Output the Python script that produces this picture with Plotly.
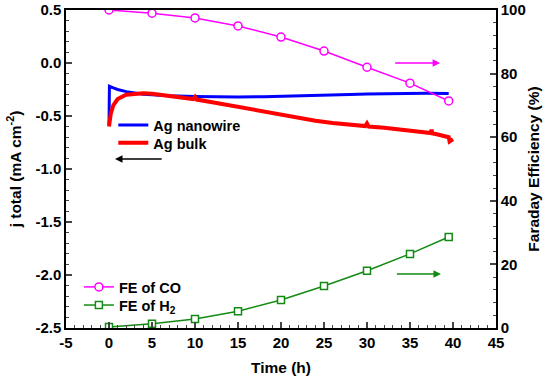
import plotly.graph_objects as go

# ---- data ----
nw_t = [0, 0.05, 0.5, 1, 2, 3, 4, 5, 7, 10, 12, 15, 18, 20, 22, 25, 28, 30, 33, 35, 37, 39.5]
nw_j = [-0.58, -0.22, -0.235, -0.25, -0.27, -0.285, -0.295, -0.30, -0.31, -0.315, -0.318, -0.32, -0.318, -0.315, -0.31, -0.305, -0.298, -0.292, -0.288, -0.287, -0.286, -0.288]

bulk_t = [0, 0.2, 0.5, 1, 2, 3, 4, 5, 6, 7, 8, 9.8, 10, 10.2, 12, 14, 16, 18, 20, 22, 24, 26, 28, 29.8, 30, 30.2,
          32, 34, 35, 36, 37.4, 37.5, 37.6, 38, 39, 39.5, 39.6, 40]
bulk_j = [-0.60, -0.48, -0.40, -0.34, -0.30, -0.29, -0.285, -0.29, -0.30, -0.31, -0.32, -0.34, -0.32, -0.345, -0.37, -0.40, -0.43, -0.46, -0.49, -0.52, -0.545, -0.565, -0.58, -0.595, -0.57, -0.60,
          -0.61, -0.63, -0.635, -0.65, -0.66, -0.63, -0.665, -0.67, -0.69, -0.70, -0.74, -0.72]

fe_t = [0, 5, 10, 15, 20, 25, 30, 35, 39.5]
fe_co = [100, 99, 97.5, 95, 91.5, 87.1, 82, 77, 71.4]
fe_h2 = [0.3, 1.3, 2.8, 5.3, 8.8, 13.2, 18, 23.3, 28.6]

x_ticks = [-5, 0, 5, 10, 15, 20, 25, 30, 35, 40, 45]
x_ticktext = ["-5", "0", "5", "10", "15", "20", "25", "30", "35", "40", "45"]
y_ticks = [-2.5, -2.0, -1.5, -1.0, -0.5, 0.0, 0.5]
y_ticktext = ["-2.5", "-2.0", "-1.5", "-1.0", "-0.5", "0.0", "0.5"]
y2_ticks = [0, 20, 40, 60, 80, 100]

FONT = "Liberation Sans, Arial, sans-serif"
MAG = "#FF00FF"
GRN = "#138A13"

fig = go.Figure()
fig.add_trace(go.Scatter(x=nw_t, y=nw_j, mode="lines", name="Ag nanowire",
                         line=dict(color="#0000FF", width=3), legend="legend"))
fig.add_trace(go.Scatter(x=bulk_t, y=bulk_j, mode="lines", name="Ag bulk",
                         line=dict(color="#FF0000", width=4), legend="legend2"))
fig.add_trace(go.Scatter(x=fe_t, y=fe_co, mode="lines+markers", name="FE of CO", yaxis="y2",
                         line=dict(color=MAG, width=1.5),
                         marker=dict(symbol="circle", size=8, color="white",
                                     line=dict(color=MAG, width=1.5)),
                         legend="legend3"))
fig.add_trace(go.Scatter(x=fe_t, y=fe_h2, mode="lines+markers", name="FE of H<sub>2</sub>", yaxis="y2",
                         line=dict(color=GRN, width=1.5),
                         marker=dict(symbol="square", size=7, color="white",
                                     line=dict(color=GRN, width=1.5)),
                         legend="legend4"))

axfont = dict(family=FONT, size=15, color="black", weight="bold")
titlefont = dict(family=FONT, size=15.5, color="black", weight="bold")
legfont = dict(family=FONT, size=14.5, color="black", weight="bold")


def leg(x, y):
    return dict(x=x, y=y, xanchor="left", yanchor="middle", bgcolor="rgba(0,0,0,0)",
                font=legfont, borderwidth=0)


fig.update_layout(
    width=550, height=377,
    margin=dict(l=66, r=54, t=10, b=49, autoexpand=False),
    plot_bgcolor="white", paper_bgcolor="white",
    xaxis=dict(range=[-5, 45], tickvals=x_ticks, ticktext=x_ticktext, ticks="inside", ticklen=6, tickwidth=1.5,
               minor=dict(dtick=1, tick0=0, ticks="inside", ticklen=3, tickwidth=1.2),
               showline=True, linecolor="black", linewidth=1.5, mirror=True, automargin=False,
               showgrid=False, zeroline=False, tickfont=axfont,
               title=dict(text="Time (h)", font=titlefont, standoff=12)),
    yaxis=dict(range=[-2.5, 0.5], tickvals=y_ticks, ticktext=y_ticktext,
               ticks="inside", ticklen=6, tickwidth=1.5, automargin=False,
               minor=dict(dtick=0.1, tick0=0, ticks="inside", ticklen=3, tickwidth=1.2),
               showline=True, linecolor="black", linewidth=1.5,
               showgrid=False, zeroline=False, tickfont=axfont,
               title=dict(text="j total (mA cm<sup>-2</sup>)", font=titlefont, standoff=10)),
    yaxis2=dict(range=[0, 100], tickvals=y2_ticks, overlaying="y", side="right",
                ticks="inside", ticklen=6, tickwidth=1.5, automargin=False,
                minor=dict(dtick=4, tick0=0, ticks="inside", ticklen=3, tickwidth=1.2),
                showline=True, linecolor="black", linewidth=1.5,
                showgrid=False, zeroline=False, tickfont=axfont,
                title=dict(text="Faraday Efficiency (%)", font=titlefont, standoff=3)),
    legend=leg(0.110, 0.638),
    legend2=leg(0.110, 0.582),
    legend3=leg(0.030, 0.129),
    legend4=leg(0.030, 0.072),
    showlegend=True,
)

# arrows indicating which axis each group belongs to
arrows = [
    dict(x=0.7, y=-0.905, ax=6.3, ay=-0.905, yref="y", color="black"),
    dict(x=38.5, y=83.3, ax=33.1, ay=83.3, yref="y2", color=MAG),
    dict(x=38.6, y=17.0, ax=33.3, ay=17.0, yref="y2", color=GRN),
]
for a in arrows:
    fig.add_annotation(x=a["x"], y=a["y"], ax=a["ax"], ay=a["ay"], xref="x", yref=a["yref"],
                       axref="x", ayref=a["yref"], showarrow=True, arrowhead=2,
                       arrowsize=1, arrowwidth=1.5, arrowcolor=a["color"], text="")

fig.write_html("out.html", config={"displayModeBar": False},
               post_script="document.body.style.margin='0';")
